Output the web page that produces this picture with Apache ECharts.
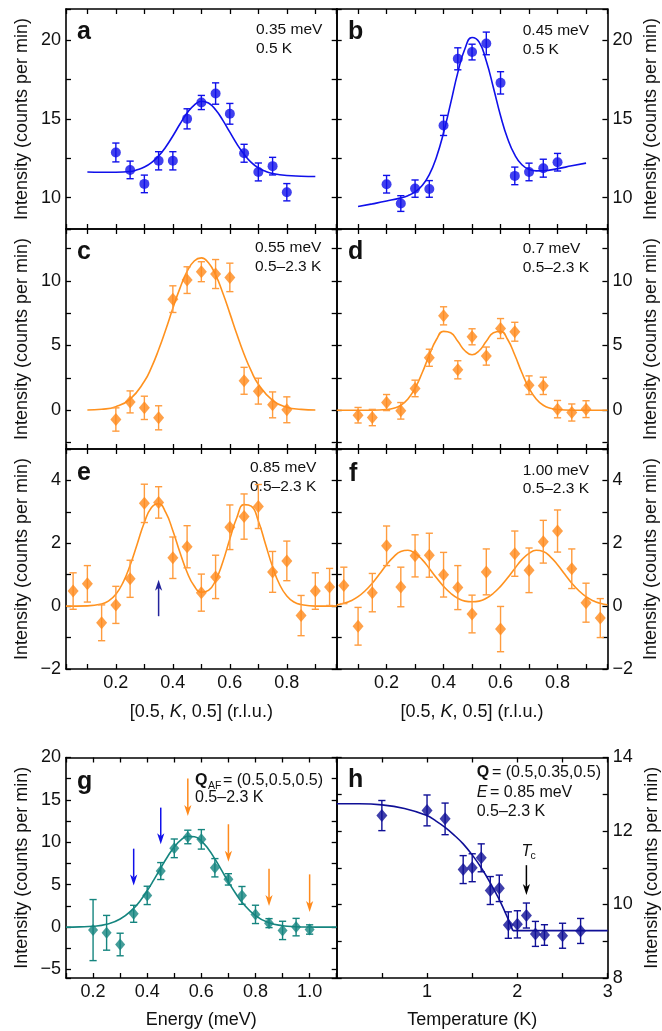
<!DOCTYPE html>
<html>
<head>
<meta charset="utf-8">
<script src="https://cdn.jsdelivr.net/npm/echarts@6/dist/echarts.min.js"></script>
<style>
  html, body { margin: 0; padding: 0; background: #fff; }
  #chart { width: 662px; height: 1031px; }
</style>
</head>
<body>
<div id="chart"></div>
<script>
// ---------- measured scans: [0.5, K, 0.5] cuts ----------
const kCoarse = [0.20, 0.25, 0.30, 0.35, 0.40, 0.45, 0.50, 0.55, 0.60, 0.65, 0.70, 0.75, 0.80];
const kMid = [0.10, 0.15, 0.20, 0.25, 0.30, 0.35, 0.40, 0.45, 0.50, 0.55, 0.60, 0.65, 0.70, 0.75, 0.80, 0.85, 0.90];
const kFine = [0.05, 0.10, 0.15, 0.20, 0.25, 0.30, 0.35, 0.40, 0.45, 0.50, 0.55, 0.60, 0.65, 0.70, 0.75, 0.80, 0.85, 0.90, 0.95];

// a: 0.35 meV, 0.5 K
const intA = [12.87, 11.76, 10.87, 12.34, 12.34, 15.01, 16.05, 16.62, 15.33, 12.82, 11.63, 12.00, 10.34];
const errA = [0.60, 0.56, 0.56, 0.58, 0.58, 0.64, 0.45, 0.68, 0.66, 0.57, 0.57, 0.56, 0.55];
const fitAK = [0.10, 0.15, 0.20, 0.25, 0.275, 0.30, 0.325, 0.35, 0.375, 0.40, 0.425, 0.45, 0.475, 0.50, 0.525, 0.55, 0.575, 0.60, 0.625, 0.65, 0.675, 0.70, 0.725, 0.75, 0.80, 0.85, 0.90];
const fitAI = [11.63, 11.61, 11.61, 11.66, 11.77, 11.94, 12.22, 12.64, 13.22, 13.92, 14.68, 15.38, 15.89, 16.13, 16.02, 15.59, 14.93, 14.16, 13.40, 12.75, 12.24, 11.89, 11.67, 11.53, 11.40, 11.36, 11.34];

// b: 0.45 meV, 0.5 K
const intB = [10.85, 9.62, 10.57, 10.55, 14.59, 18.83, 19.26, 19.81, 17.30, 11.38, 11.63, 11.87, 12.25];
const errB = [0.56, 0.50, 0.55, 0.53, 0.64, 0.70, 0.50, 0.72, 0.71, 0.56, 0.56, 0.57, 0.56];
const fitBK = [0.10, 0.15, 0.20, 0.25, 0.275, 0.30, 0.325, 0.35, 0.375, 0.40, 0.425, 0.45, 0.475, 0.50, 0.525, 0.55, 0.575, 0.60, 0.625, 0.65, 0.675, 0.70, 0.725, 0.75, 0.80, 0.85, 0.90];
const fitBI = [9.43, 9.60, 9.78, 9.98, 10.12, 10.36, 10.77, 11.46, 12.57, 14.12, 16.01, 17.95, 19.47, 20.19, 19.89, 18.69, 16.99, 15.21, 13.74, 12.71, 12.09, 11.80, 11.70, 11.71, 11.84, 12.02, 12.19];

// c: 0.55 meV, 0.5-2.3 K
const intC = [-0.72, 0.64, 0.18, -0.59, 8.58, 10.05, 10.70, 10.52, 10.26, 2.27, 1.47, 0.41, 0.03];
const errC = [0.90, 0.85, 0.90, 0.93, 1.03, 1.03, 0.77, 1.12, 1.10, 1.04, 1.00, 1.00, 1.00];
const fitCK = [0.10, 0.15, 0.20, 0.25, 0.30, 0.325, 0.35, 0.375, 0.40, 0.425, 0.45, 0.475, 0.50, 0.525, 0.55, 0.575, 0.60, 0.625, 0.65, 0.675, 0.70, 0.75, 0.80, 0.85, 0.90];
const fitCI = [0.01, 0.07, 0.27, 0.86, 2.23, 3.31, 4.67, 6.22, 7.87, 9.43, 10.72, 11.53, 11.77, 11.39, 10.45, 9.07, 7.48, 5.84, 4.32, 3.03, 2.01, 0.76, 0.23, 0.06, 0.01];

// d: 0.7 meV, 0.5-2.3 K
const intD = [-0.39, -0.57, 0.59, -0.05, 1.68, 4.05, 7.29, 3.12, 5.67, 4.18, 6.31, 6.06, 1.93, 1.88, 0.08, -0.18, 0.08];
const errD = [0.60, 0.63, 0.62, 0.64, 0.64, 0.66, 0.70, 0.70, 0.62, 0.70, 0.77, 0.73, 0.72, 0.67, 0.67, 0.66, 0.65];
const fitDK = [0.025, 0.10, 0.15, 0.20, 0.225, 0.25, 0.275, 0.30, 0.325, 0.35, 0.375, 0.40, 0.425, 0.45, 0.475, 0.50, 0.525, 0.55, 0.575, 0.60, 0.625, 0.65, 0.675, 0.70, 0.725, 0.75, 0.775, 0.80, 0.85, 0.90, 0.975];
const fitDI = [0, 0, 0, 0.05, 0.15, 0.38, 0.87, 1.70, 2.89, 4.26, 5.46, 6.09, 5.98, 5.32, 4.59, 4.28, 4.59, 5.32, 5.98, 6.09, 5.46, 4.26, 2.89, 1.70, 0.87, 0.38, 0.15, 0.05, 0, 0, 0];

// e: 0.85 meV, 0.5-2.3 K
const intE = [0.48, 0.71, -0.53, 0.04, 0.87, 3.27, 3.30, 1.54, 1.89, 0.43, 0.93, 2.51, 2.85, 3.17, 1.09, 1.44, -0.30, 0.48, 0.61];
const errE = [0.58, 0.58, 0.57, 0.59, 0.59, 0.61, 0.50, 0.66, 0.67, 0.59, 0.69, 0.71, 0.72, 0.70, 0.65, 0.63, 0.64, 0.58, 0.59];
const fitEK = [0.025, 0.10, 0.15, 0.175, 0.20, 0.225, 0.25, 0.275, 0.30, 0.325, 0.35, 0.375, 0.40, 0.425, 0.45, 0.475, 0.50, 0.525, 0.55, 0.575, 0.60, 0.625, 0.65, 0.675, 0.70, 0.725, 0.75, 0.775, 0.80, 0.825, 0.85, 0.90, 0.975];
const fitEI = [0, 0.01, 0.07, 0.17, 0.38, 0.75, 1.30, 1.98, 2.66, 3.14, 3.26, 2.98, 2.40, 1.71, 1.08, 0.64, 0.44, 0.50, 0.82, 1.40, 2.14, 2.83, 3.23, 3.18, 2.71, 1.98, 1.25, 0.68, 0.32, 0.13, 0.05, 0, 0];
const arrowE = [[0.35, -0.32, 0.84]];

// f: 1.00 meV, 0.5-2.3 K
const intF = [0.66, -0.64, 0.43, 1.92, 0.61, 1.60, 1.62, 1.00, 0.59, -0.25, 1.09, -0.73, 1.67, 1.14, 2.05, 2.39, 1.19, 0.11, -0.38];
const errF = [0.58, 0.60, 0.61, 0.63, 0.63, 0.67, 0.70, 0.71, 0.70, 0.60, 0.73, 0.72, 0.72, 0.71, 0.68, 0.67, 0.63, 0.62, 0.62];
const fitFK = [0.025, 0.05, 0.075, 0.10, 0.125, 0.15, 0.175, 0.20, 0.225, 0.25, 0.275, 0.30, 0.325, 0.35, 0.375, 0.40, 0.425, 0.45, 0.475, 0.50, 0.525, 0.55, 0.575, 0.60, 0.625, 0.65, 0.675, 0.70, 0.725, 0.75, 0.775, 0.80, 0.825, 0.85, 0.875, 0.90, 0.925, 0.95, 0.975];
const fitFI = [0.04, 0.09, 0.17, 0.30, 0.49, 0.73, 1.02, 1.32, 1.57, 1.74, 1.78, 1.68, 1.48, 1.20, 0.90, 0.63, 0.41, 0.25, 0.16, 0.14, 0.16, 0.25, 0.41, 0.63, 0.90, 1.20, 1.48, 1.68, 1.78, 1.74, 1.57, 1.32, 1.02, 0.73, 0.49, 0.30, 0.17, 0.09, 0.04];

// g: energy scan at Q_AF
const energyG = [0.20, 0.25, 0.30, 0.35, 0.40, 0.45, 0.50, 0.55, 0.60, 0.65, 0.70, 0.75, 0.80, 0.85, 0.90, 0.95, 1.00];
const intG = [-0.35, -0.67, -2.05, 1.57, 3.74, 6.61, 9.29, 10.63, 10.35, 7.00, 5.63, 3.74, 1.50, 0.47, -0.39, 0.00, -0.28];
const errG = [3.60, 2.05, 1.33, 1.00, 1.08, 1.00, 1.10, 0.80, 1.15, 1.08, 0.67, 1.05, 1.08, 0.53, 1.08, 1.03, 0.55];
const fitGE = [0.10, 0.15, 0.20, 0.25, 0.30, 0.35, 0.375, 0.40, 0.425, 0.45, 0.475, 0.50, 0.525, 0.55, 0.575, 0.60, 0.625, 0.65, 0.675, 0.70, 0.725, 0.75, 0.80, 0.85, 0.90, 0.95, 1.00, 1.05, 1.10];
const fitGI = [0, 0.03, 0.10, 0.34, 0.95, 2.21, 3.15, 4.29, 5.59, 6.96, 8.30, 9.45, 10.29, 10.71, 10.66, 10.15, 9.24, 8.04, 6.69, 5.32, 4.05, 2.94, 1.36, 0.52, 0.17, 0.05, 0.01, 0, 0];
const arrowsGBlue = [[0.35, 9.25, 4.92], [0.45, 14.09, 9.76]];
const arrowsGOrange = [[0.55, 17.52, 13.11], [0.70, 12.13, 7.72], [0.85, 6.89, 2.48], [1.00, 6.22, 1.77]];

// h: temperature dependence at Q = (0.5,0.35,0.5), E = 0.85 meV
const tempH = [0.5, 1.0, 1.2, 1.4, 1.5, 1.6, 1.7, 1.8, 1.9, 2.0, 2.1, 2.2, 2.3, 2.5, 2.7];
const intH = [12.42, 12.56, 12.33, 10.95, 11.00, 11.27, 10.38, 10.44, 9.44, 9.46, 9.70, 9.20, 9.17, 9.15, 9.28];
const errH = [0.41, 0.42, 0.43, 0.38, 0.38, 0.38, 0.38, 0.36, 0.36, 0.37, 0.34, 0.34, 0.28, 0.34, 0.34];
const fitHT = [0, 0.25, 0.5, 0.75, 1.0, 1.1, 1.2, 1.3, 1.4, 1.5, 1.6, 1.7, 1.8, 1.9, 1.95];
const fitHI = [12.74, 12.74, 12.71, 12.61, 12.42, 12.27, 12.10, 11.89, 11.65, 11.35, 11.00, 10.59, 10.13, 9.59, 9.29];
const baseHT = [1.95, 3.0];
const baseHI = [9.29, 9.29];
const arrowTc = [[2.1, 11.07, 10.26]];

// ---------- styling ----------
const FONT = '"Liberation Sans", Arial, Helvetica, sans-serif';
const INK = '#111';
const BLUE = '#1010ea';
const ORANGE = '#ff8a1c';
const ORANGE_BAR = '#ff9c3e';
const ORANGE_LINE = '#ff921f';
const TEAL = '#15857f';
const NAVY = '#0f0f96';
const ARROW_NAVY = '#24249c';

const grids = [], xAxes = [], yAxes = [], series = [], graphics = [];

const zip = (a, b) => a.map((v, i) => [v, b[i]]);
const zip3 = (a, b, c) => a.map((v, i) => [v, b[i], c[i]]);
const signed = v => (v < 0 ? '\u2212' : '') + Math.abs(v);
const near = (v, m) => Math.abs(v / m - Math.round(v / m)) < 1e-6;
const fmtK = v => { const t = Math.round(v * 10); return near(v, 0.1) && t % 2 === 0 && t >= 2 && t <= 8 ? (t / 10).toFixed(1) : ''; };
const fmtE = v => { const t = Math.round(v * 10); return near(v, 0.1) && t % 2 === 0 && t >= 2 && t <= 10 ? (t / 10).toFixed(1) : ''; };
const fmtT = v => (near(v, 1) && Math.round(v) >= 1 ? String(Math.round(v)) : '');
const every = m => v => (near(v, m) ? signed(Math.round(v)) : '');

function axis(pos, gridIndex, range, labelFmt, name) {
  const a = {
    type: 'value', gridIndex, position: pos,
    min: range[0], max: range[1],
    minInterval: range[2], maxInterval: range[2], splitNumber: 12,
    axisLine: { show: true, onZero: false, lineStyle: { color: '#000', width: 1.6 } },
    axisTick: { show: true, inside: true, length: 5, lineStyle: { color: '#000', width: 1.3 } },
    splitLine: { show: false },
    axisLabel: {
      show: !!labelFmt, formatter: labelFmt || undefined, color: INK,
      fontFamily: FONT, fontSize: 18, margin: 5, hideOverlap: false
    },
    silent: true
  };
  if (name) {
    Object.assign(a, {
      name: name.text, nameLocation: 'middle', nameGap: name.gap,
      nameRotate: name.rotate || 0,
      nameTextStyle: {
        fontFamily: FONT, fontSize: 18, color: INK,
        rich: { i: { fontFamily: FONT, fontSize: 18, color: INK, fontStyle: 'italic' } }
      }
    });
  }
  return a;
}

const Y_NAME = 'Intensity (counts per min)';

function panel(p) {
  const gi = grids.length;
  grids.push({ left: p.box[0], top: p.box[1], width: p.box[2], height: p.box[3] });
  const xi = xAxes.length, yi = yAxes.length;
  xAxes.push(axis('bottom', gi, p.x, p.xFmt, p.xName));
  xAxes.push(axis('top', gi, p.x, null, null));
  const leftSide = p.ySide === 'left';
  const yName = { text: Y_NAME, gap: leftSide ? 35 : 35, rotate: 90 };
  yAxes.push(axis('left', gi, p.y, leftSide ? p.yFmt : null, leftSide ? yName : null));
  yAxes.push(axis('right', gi, p.y, leftSide ? null : p.yFmt, leftSide ? null : yName));
  return { xAxisIndex: xi, yAxisIndex: yi };
}

function fitLine(ax, xs, ys, color) {
  series.push(Object.assign({
    type: 'line', data: zip(xs, ys), smooth: true, showSymbol: false, silent: true,
    lineStyle: { color, width: 1.6 }, z: 2
  }, ax));
}

function errRender(color) {
  return function (params, api) {
    const x = api.value(0), y = api.value(1), e = api.value(2);
    const lo = api.coord([x, y - e]), hi = api.coord([x, y + e]);
    const cap = 3.6;
    const st = { stroke: color, lineWidth: 1.4 };
    return {
      type: 'group', children: [
        { type: 'line', shape: { x1: lo[0], y1: lo[1], x2: hi[0], y2: hi[1] }, style: st },
        { type: 'line', shape: { x1: lo[0] - cap, y1: lo[1], x2: lo[0] + cap, y2: lo[1] }, style: st },
        { type: 'line', shape: { x1: hi[0] - cap, y1: hi[1], x2: hi[0] + cap, y2: hi[1] }, style: st }
      ]
    };
  };
}

function points(ax, xs, ys, es, o) {
  series.push(Object.assign({
    type: 'custom', data: zip3(xs, ys, es), encode: { x: 0, y: 1 },
    renderItem: errRender(o.bar), silent: true, z: 3
  }, ax));
  series.push(Object.assign({
    type: 'scatter', data: zip(xs, ys), symbol: o.symbol, symbolSize: o.size,
    itemStyle: { color: o.color }, silent: true, z: 4
  }, ax));
}

function arrowRender(color) {
  return function (params, api) {
    const x = api.value(0);
    const p0 = api.coord([x, api.value(1)]);
    const tip = api.coord([x, api.value(2)]);
    const dir = tip[1] > p0[1] ? 1 : -1;
    const L = 11, W = 3.6, notch = 8;
    return {
      type: 'group', children: [
        { type: 'line', shape: { x1: p0[0], y1: p0[1], x2: tip[0], y2: tip[1] - dir * notch }, style: { stroke: color, lineWidth: 1.5 } },
        { type: 'polygon', shape: { points: [
          [tip[0], tip[1]], [tip[0] - W, tip[1] - dir * L],
          [tip[0], tip[1] - dir * notch], [tip[0] + W, tip[1] - dir * L]
        ] }, style: { fill: color } }
      ]
    };
  };
}

function arrows(ax, rows, color) {
  series.push(Object.assign({
    type: 'custom', data: rows, encode: { x: 0, y: [1, 2] },
    renderItem: arrowRender(color), silent: true, z: 5
  }, ax));
}

// text placed by left edge and baseline
function txt(x, base, text, size, extra) {
  graphics.push({
    type: 'text', x, y: base - 0.33 * size, silent: true,
    style: Object.assign({
      text, fontFamily: FONT, fontSize: size, fill: INK,
      align: 'left', verticalAlign: 'middle'
    }, extra || {})
  });
}
const letter = (x, base, s) => txt(x, base, s, 25, { fontWeight: 'bold' });

// ---------- layout ----------
const X0 = 66, X1 = 336.7, PW = 270.7, PH = 220;
const K_RANGE = [0.025, 0.975, 0.1];
const KNAME = { text: '[0.5, {i|K}, 0.5] (r.l.u.)', gap: 34 };

const dotBlue = { bar: BLUE, color: BLUE, symbol: 'circle', size: 10 };
const dia = { bar: ORANGE_BAR, color: ORANGE, symbol: 'diamond', size: [11, 13] };

// a
let ax = panel({ box: [X0, 9, PW, PH], x: K_RANGE, y: [8, 22, 2.5], ySide: 'left', yFmt: every(5) });
fitLine(ax, fitAK, fitAI, BLUE);
points(ax, kCoarse, intA, errA, dotBlue);
// b
ax = panel({ box: [X1, 9, PW, PH], x: K_RANGE, y: [8, 22, 2.5], ySide: 'right', yFmt: every(5) });
fitLine(ax, fitBK, fitBI, BLUE);
points(ax, kCoarse, intB, errB, dotBlue);
// c
ax = panel({ box: [X0, 229, PW, PH], x: K_RANGE, y: [-3, 14, 2.5], ySide: 'left', yFmt: every(5) });
fitLine(ax, fitCK, fitCI, ORANGE_LINE);
points(ax, kCoarse, intC, errC, dia);
// d
ax = panel({ box: [X1, 229, PW, PH], x: K_RANGE, y: [-3, 14, 2.5], ySide: 'right', yFmt: every(5) });
fitLine(ax, fitDK, fitDI, ORANGE_LINE);
points(ax, kMid, intD, errD, dia);
// e
ax = panel({ box: [X0, 449, PW, PH], x: K_RANGE, y: [-2, 5, 1], ySide: 'left', yFmt: every(2), xFmt: fmtK, xName: KNAME });
fitLine(ax, fitEK, fitEI, ORANGE_LINE);
points(ax, kFine, intE, errE, dia);
arrows(ax, arrowE, ARROW_NAVY);
// f
ax = panel({ box: [X1, 449, PW, PH], x: K_RANGE, y: [-2, 5, 1], ySide: 'right', yFmt: every(2), xFmt: fmtK, xName: KNAME });
fitLine(ax, fitFK, fitFI, ORANGE_LINE);
points(ax, kFine, intF, errF, dia);
// g
ax = panel({ box: [X0, 757.5, PW, 220.5], x: [0.1, 1.1, 0.1], y: [-6, 20, 2.5], ySide: 'left', yFmt: every(5), xFmt: fmtE, xName: { text: 'Energy (meV)', gap: 33 } });
fitLine(ax, fitGE, fitGI, TEAL);
points(ax, energyG, intG, errG, { bar: TEAL, color: TEAL, symbol: 'diamond', size: [10, 12] });
arrows(ax, arrowsGBlue, BLUE);
arrows(ax, arrowsGOrange, ORANGE);
// h
ax = panel({ box: [X1, 757.5, 271, 220.5], x: [0, 3, 0.5], y: [8, 14, 1], ySide: 'right', yFmt: every(2), xFmt: fmtT, xName: { text: 'Temperature (K)', gap: 33 } });
series.push(Object.assign({
  type: 'line', data: zip(fitHT, fitHI), smooth: 0.4, showSymbol: false, silent: true,
  lineStyle: { color: NAVY, width: 1.6 }, z: 2
}, ax));
series.push(Object.assign({
  type: 'line', data: zip(baseHT, baseHI), showSymbol: false, silent: true,
  lineStyle: { color: NAVY, width: 1.6 }, z: 2
}, ax));
points(ax, tempH, intH, errH, { bar: NAVY, color: NAVY, symbol: 'diamond', size: [11, 13] });
arrows(ax, arrowTc, '#000');

// ---------- panel letters and annotations ----------
letter(77, 40, 'a');
letter(348, 40, 'b');
letter(77, 260, 'c');
letter(348, 260, 'd');
letter(77, 481, 'e');
letter(349, 482, 'f');
letter(77, 790, 'g');
letter(348, 788, 'h');

const AN = 15.5;
txt(256, 35, '0.35 meV', AN); txt(256, 53.5, '0.5 K', AN);
txt(522.7, 36, '0.45 meV', AN); txt(522.7, 54.5, '0.5 K', AN);
txt(255, 253.3, '0.55 meV', AN); txt(255, 271.7, '0.5\u20132.3 K', AN);
txt(522.7, 254.3, '0.7 meV', AN); txt(522.7, 273, '0.5\u20132.3 K', AN);
txt(250, 473.3, '0.85 meV', AN); txt(250, 491.7, '0.5\u20132.3 K', AN);
txt(522.7, 476, '1.00 meV', AN); txt(522.7, 494.3, '0.5\u20132.3 K', AN);

const AG = 16;
txt(195, 786, 'Q', AG, { fontWeight: 'bold' });
txt(208, 790, 'AF', 10.5);
txt(223, 786, '= (0.5,0.5,0.5)', AG);
txt(195, 803.3, '0.5\u20132.3 K', AG);

txt(476.7, 778.3, 'Q', AG, { fontWeight: 'bold' });
txt(492, 778.3, '= (0.5,0.35,0.5)', AG);
txt(476.7, 798.3, 'E', AG, { fontStyle: 'italic' });
txt(490, 798.3, '= 0.85 meV', AG);
txt(476.7, 817, '0.5\u20132.3 K', AG);

txt(521.5, 856.7, 'T', AG, { fontStyle: 'italic' });
txt(530.5, 860, 'c', 10.5);

const chart = echarts.init(document.getElementById('chart'), null, { renderer: 'canvas' });
chart.setOption({
  animation: false,
  backgroundColor: '#fff',
  grid: grids,
  xAxis: xAxes,
  yAxis: yAxes,
  series,
  graphic: graphics
});
</script>
</body>
</html>
